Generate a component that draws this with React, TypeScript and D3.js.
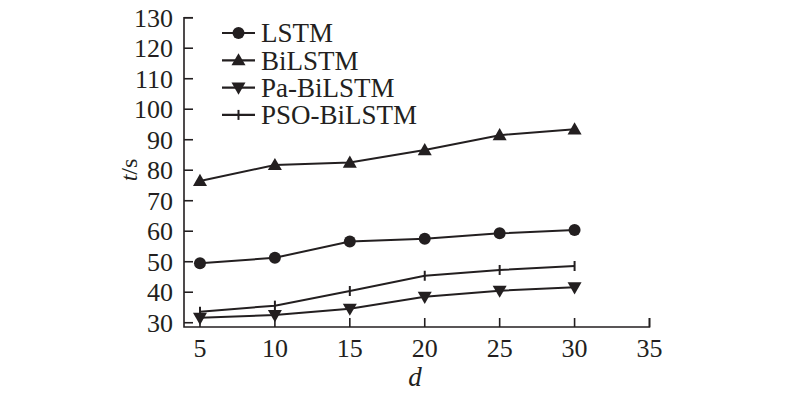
import { useEffect, useRef } from "react";
import * as d3 from "d3";

const dValues = [5, 10, 15, 20, 25, 30];
const lstm = [49.5, 51.3, 56.6, 57.5, 59.3, 60.4];
const bilstm = [76.5, 81.7, 82.5, 86.6, 91.5, 93.4];
const paBilstm = [31.6, 32.5, 34.6, 38.5, 40.5, 41.6];
const psoBilstm = [33.6, 35.6, 40.4, 45.4, 47.3, 48.6];
const xTicks = [5, 10, 15, 20, 25, 30, 35];
const yTicks = [30, 40, 50, 60, 70, 80, 90, 100, 110, 120, 130];

const seriesList = [
  { name: "LSTM", values: lstm, marker: "circle" },
  { name: "BiLSTM", values: bilstm, marker: "triangle" },
  { name: "Pa-BiLSTM", values: paBilstm, marker: "down" },
  { name: "PSO-BiLSTM", values: psoBilstm, marker: "plus" },
];

const INK = "#231f20";
const FONT = "'Liberation Serif', 'Times New Roman', serif";

function drawMarker(g: any, type: string, cx: number, cy: number) {
  if (type === "circle") {
    g.append("circle").attr("cx", cx).attr("cy", cy).attr("r", 6).attr("fill", INK);
  } else if (type === "triangle") {
    g.append("path")
      .attr("d", d3.symbol(d3.symbolTriangle, 85)())
      .attr("transform", `translate(${cx},${cy + 1})`)
      .attr("fill", INK);
  } else if (type === "down") {
    g.append("path")
      .attr("d", d3.symbol(d3.symbolTriangle, 85)())
      .attr("transform", `translate(${cx},${cy - 1}) rotate(180)`)
      .attr("fill", INK);
  } else {
    g.append("line").attr("x1", cx).attr("x2", cx).attr("y1", cy - 5).attr("y2", cy + 5)
      .attr("stroke", INK).attr("stroke-width", 2);
  }
}

export default function App() {
  const ref = useRef<SVGSVGElement>(null);

  useEffect(() => {
    const svg = d3.select(ref.current);
    svg.selectAll("*").remove();

    const left = 184;
    const right = 649.5;
    const bottom = 327;

    const x = d3.scaleLinear().domain([3.8, 35]).range([182, right]);
    const y = d3.scaleLinear().domain([28.6, 130]).range([bottom, bottom - (130 - 28.6) * 3.05]);

    const g = svg.append("g");

    // axes lines
    g.append("path")
      .attr("d", `M${left + 9},${y(130)}H${left}V${bottom}H${right}V${bottom - 9}`)
      .attr("fill", "none").attr("stroke", INK).attr("stroke-width", 1.6);

    yTicks.forEach((t) => {
      g.append("line").attr("x1", left).attr("x2", left + 9).attr("y1", y(t)).attr("y2", y(t))
        .attr("stroke", INK).attr("stroke-width", 1.6);
      g.append("text").attr("x", left - 11).attr("y", y(t)).attr("dy", "0.34em")
        .attr("text-anchor", "end").attr("font-family", FONT).attr("font-size", 26)
        .attr("fill", INK).text(t);
    });

    xTicks.forEach((t) => {
      g.append("line").attr("x1", x(t)).attr("x2", x(t)).attr("y1", bottom).attr("y2", bottom - 9)
        .attr("stroke", INK).attr("stroke-width", 1.6);
      g.append("text").attr("x", x(t)).attr("y", bottom + 30)
        .attr("text-anchor", "middle").attr("font-family", FONT).attr("font-size", 26)
        .attr("fill", INK).text(t);
    });

    // axis titles
    g.append("text").attr("x", 415).attr("y", 386).attr("text-anchor", "middle")
      .attr("font-family", FONT).attr("font-size", 27).attr("font-style", "italic")
      .attr("fill", INK).text("d");

    const yl = g.append("text").attr("transform", `translate(137,170) rotate(-90)`)
      .attr("text-anchor", "middle").attr("font-family", FONT).attr("font-size", 24)
      .attr("fill", INK);
    yl.append("tspan").attr("font-style", "italic").text("t");
    yl.append("tspan").text("/s");

    const line = d3.line<number>().x((_, i) => x(dValues[i])).y((v) => y(v));

    seriesList.forEach((s) => {
      g.append("path").attr("d", line(s.values)).attr("fill", "none")
        .attr("stroke", INK).attr("stroke-width", 2);
      s.values.forEach((v, i) => drawMarker(g, s.marker, x(dValues[i]), y(v)));
    });

    // legend
    seriesList.forEach((s, i) => {
      const ly = 33 + i * 27.3;
      g.append("line").attr("x1", 222).attr("x2", 255).attr("y1", ly).attr("y2", ly)
        .attr("stroke", INK).attr("stroke-width", 2.2);
      drawMarker(g, s.marker, 238.5, ly);
      g.append("text").attr("x", 261).attr("y", ly).attr("dy", "0.35em")
        .attr("font-family", FONT).attr("font-size", 27).attr("fill", INK).text(s.name);
    });
  }, []);

  return (
    <svg ref={ref} width={800} height={396}
      style={{ position: "absolute", left: 0, top: 0, background: "#fff" }} />
  );
}
